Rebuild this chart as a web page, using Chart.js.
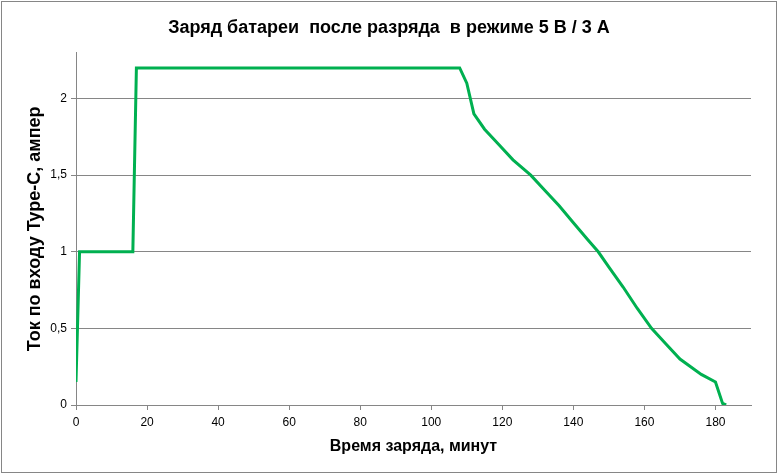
<!DOCTYPE html>
<html>
<head>
<meta charset="utf-8">
<script src="https://cdn.jsdelivr.net/npm/chart.js@4"></script>
<style>
  html, body { margin: 0; padding: 0; background: #fff; }
  #wrap { width: 778px; height: 475px; }
</style>
</head>
<body>
<div id="wrap"><canvas id="chart" width="778" height="475"></canvas></div>
<script>
// time since start of charging, minutes
const minutes = [0, 1, 16, 17, 108, 110, 112, 115, 119, 123, 128, 132, 136, 140, 144, 147, 150, 154, 158, 162, 166, 170, 176, 180, 182, 183];
// current on the Type-C input, amps
const amps = [0.15, 1.0, 1.0, 2.2, 2.2, 2.1, 1.9, 1.8, 1.7, 1.6, 1.5, 1.4, 1.3, 1.19, 1.08, 1.0, 0.9, 0.77, 0.63, 0.5, 0.4, 0.3, 0.2, 0.15, 0.01, 0];

const titleText = 'Заряд батареи  после разряда  в режиме 5 В / 3 А';
const xTitle = 'Время заряда, минут';
const yTitle = 'Ток по входу Type-C, ампер';

const FONT = '"Liberation Sans", Arial, sans-serif';
const gridColor = '#868686';

// grey frame round the whole chart, like the spreadsheet export
const framePlugin = {
  id: 'frame',
  afterDraw(chart) {
    const ctx = chart.ctx;
    ctx.save();
    ctx.strokeStyle = gridColor;
    ctx.lineWidth = 1;
    ctx.strokeRect(1.5, 1.5, 775, 471);
    ctx.restore();
  }
};

const points = minutes.map((m, i) => ({ x: m, y: amps[i] }));

new Chart(document.getElementById('chart'), {
  type: 'line',
  data: {
    datasets: [{
      data: points,
      borderColor: '#00b050',
      borderWidth: 3,
      pointRadius: 0,
      fill: false,
      tension: 0
    }]
  },
  options: {
    responsive: false,
    animation: false,
    plugins: {
      legend: { display: false },
      tooltip: { enabled: false },
      title: {
        display: true,
        text: titleText,
        color: '#000',
        font: { family: FONT, size: 18, weight: 'bold' },
        padding: { top: 17, bottom: 14 }
      }
    },
    scales: {
      x: {
        type: 'linear',
        min: 0,
        max: 190,
        afterFit(scale) { scale.height = 70; },
        ticks: {
          stepSize: 20,
          includeBounds: false,
          color: '#000',
          font: { family: FONT, size: 12 },
          maxRotation: 0,
          padding: 5
        },
        grid: { drawOnChartArea: false, tickLength: 5, color: gridColor },
        border: { color: gridColor },
        title: {
          display: true,
          text: xTitle,
          color: '#000',
          font: { family: FONT, size: 16, weight: 'bold' },
          padding: { top: 0, bottom: 19 }
        }
      },
      y: {
        min: 0,
        max: 2.3,
        afterFit(scale) { scale.width = 76; },
        ticks: {
          stepSize: 0.5,
          includeBounds: false,
          color: '#000',
          font: { family: FONT, size: 12 },
          padding: 4,
          callback: v => String(v).replace('.', ',')
        },
        grid: { color: gridColor, tickLength: 5 },
        border: { color: gridColor },
        title: {
          display: true,
          text: yTitle,
          color: '#000',
          font: { family: FONT, size: 18, weight: 'bold' },
          padding: { top: 24, bottom: 0 }
        }
      },
      // empty right-hand space so the title stays centred on the canvas
      yRight: {
        position: 'right',
        afterFit(scale) { scale.width = 27; },
        ticks: { display: false },
        grid: { display: false },
        border: { display: false }
      }
    }
  },
  plugins: [framePlugin]
});
</script>
</body>
</html>
